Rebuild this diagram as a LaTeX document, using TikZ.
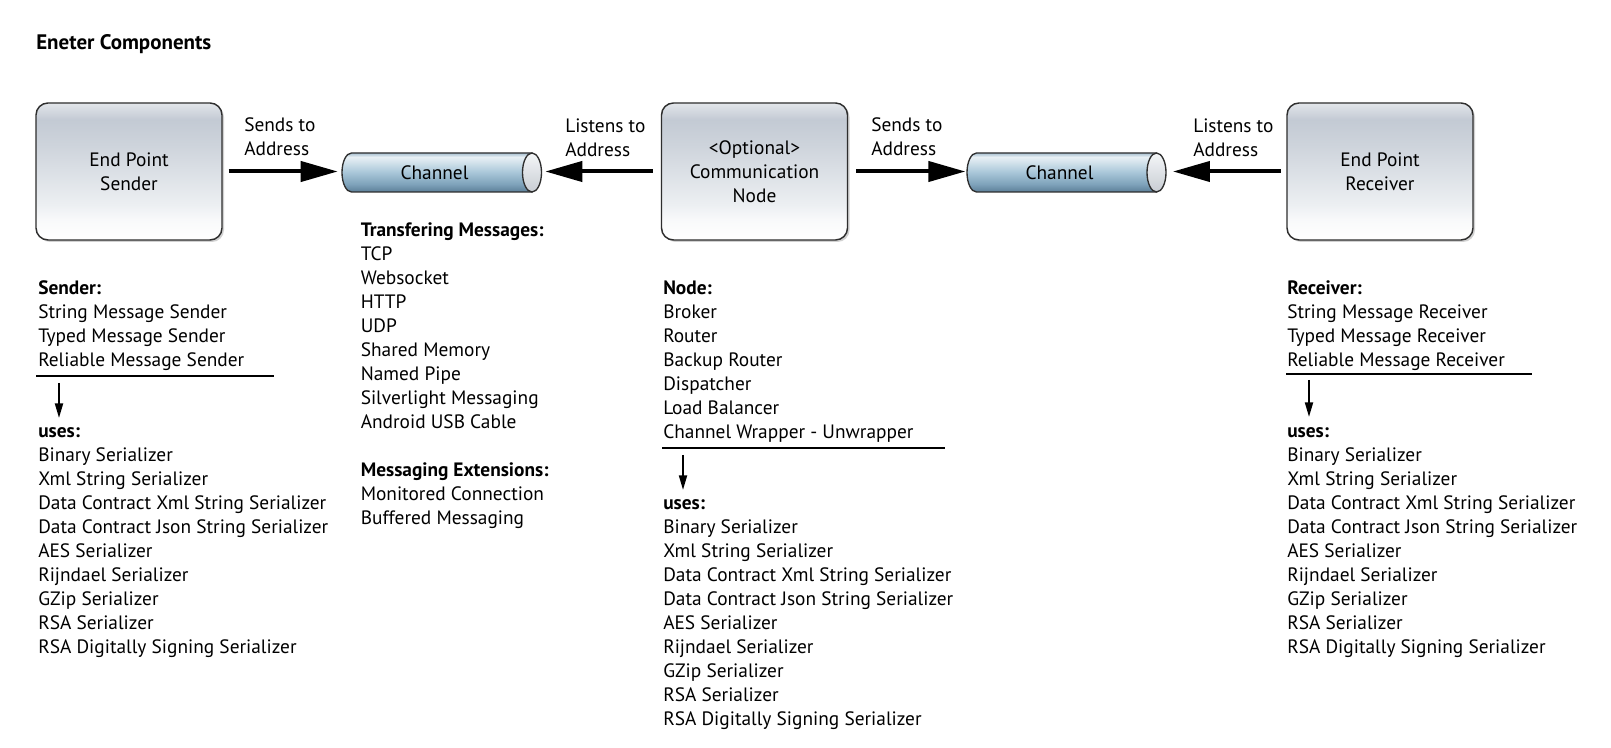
\documentclass[tikz,border=0pt]{standalone}
\usepackage{fontspec}
\setmainfont{PT Sans}
\usetikzlibrary{arrows.meta,shadows}
\definecolor{bx1}{HTML}{F9FAFB}
\definecolor{bx2}{HTML}{ECEFF2}
\definecolor{bx3}{HTML}{CDD3DB}
\definecolor{bx4}{HTML}{C3CAD4}
\definecolor{bx5}{HTML}{E3E6EA}
\definecolor{ch1c}{HTML}{5C7F98}
\definecolor{ch2c}{HTML}{7EA2BA}
\definecolor{ch3c}{HTML}{A8C6D8}
\definecolor{ch4c}{HTML}{CFE0EA}
\definecolor{ch5c}{HTML}{E8F0F5}
\definecolor{ch6c}{HTML}{A7BFCF}
\definecolor{cap1}{HTML}{C8CDD3}
\definecolor{cap2}{HTML}{F4F6F8}
\definecolor{edge}{HTML}{2E2E2E}
\pgfdeclareverticalshading{boxshade}{100bp}{color(0bp)=(white); color(25bp)=(white); color(32bp)=(bx1); color(38bp)=(bx2); color(60bp)=(bx3); color(69bp)=(bx4); color(75bp)=(bx5); color(100bp)=(bx5)}
\pgfdeclareverticalshading{chanshade}{100bp}{color(0bp)=(ch1c); color(25bp)=(ch1c); color(35bp)=(ch2c); color(50bp)=(ch3c); color(62bp)=(ch4c); color(70bp)=(ch5c); color(75bp)=(ch6c); color(100bp)=(ch6c)}
\pgfdeclareverticalshading{capshade}{100bp}{color(0bp)=(cap1); color(25bp)=(cap1); color(75bp)=(cap2); color(100bp)=(cap2)}
\newlength\tmpw
\newcommand\fl{\rule{0pt}{12pt}}
\begin{document}
\settowidth\tmpw{\fontsize{10pt}{12pt}\selectfont Data Contract Json String Serializer}%
\pgfmathsetmacro\bodysz{10*217.5/\tmpw}%
\settowidth\tmpw{\fontsize{10pt}{12pt}\selectfont\bfseries Eneter Components}%
\pgfmathsetmacro\titlesz{10*131.25/\tmpw}%
\begin{tikzpicture}[x=0.75pt,y=-0.75pt]
\tikzset{
  body/.style={font=\fontsize{\bodysz pt}{18pt}\selectfont},
  box/.style={body, draw=edge, line width=1.1pt, rounded corners=9pt,
    minimum width=139.5pt, minimum height=102.75pt, shading=boxshade,
    align=center, inner sep=0pt,
    drop shadow={shadow xshift=1.5pt, shadow yshift=-1.5pt, opacity=0.18, fill=black}},
  chan/.style={body, inner sep=0pt, minimum width=149.25pt, minimum height=29.25pt},
  lst/.style={body, anchor=north west, inner sep=0pt, align=left},
  bigarr/.style={line width=3pt, -{Triangle[length=27.75pt,width=15pt]}},
  smallarr/.style={line width=1.5pt, -{Triangle[length=11pt,width=6pt]}},
  uline/.style={line width=1.5pt},
  cylbody/.style={shade, shading=chanshade, draw=edge, line width=1pt},
  cylcap/.style={shade, shading=capshade, draw=edge, line width=1pt}
}
\useasboundingbox (0,0) rectangle (1611,748);
\fill[white] (0,0) rectangle (1611,748);

% title
\node[anchor=base west, inner sep=0pt, font=\fontsize{\titlesz pt}{14pt}\selectfont\bfseries] (title) at (36,50) {Eneter Components};

% boxes
\node[box] (snd) at (129,171.5) {End Point\\Sender};
\node[box] (nod) at (754.5,171.5) {<Optional>\\Communication\\Node};
\node[box] (rcv) at (1380,171.5) {End Point\\Receiver};

% channel 1 cylinder
\path[cylbody] (351.5,153) -- (532,153) -- (532,192) -- (351.5,192)
  arc[start angle=270, end angle=90, x radius=7.125pt, y radius=14.625pt] -- cycle;
\path[cylcap] (532,172.5) ellipse[x radius=7.125pt, y radius=14.625pt];
\node[chan] (ch1) at (441.5,172.5) {Channel\hspace*{10.5pt}};

% channel 2 cylinder
\path[cylbody] (976.5,153) -- (1156.5,153) -- (1156.5,192) -- (976.5,192)
  arc[start angle=270, end angle=90, x radius=7.125pt, y radius=14.625pt] -- cycle;
\path[cylcap] (1156.5,172.5) ellipse[x radius=7.125pt, y radius=14.625pt];
\node[chan] (ch2) at (1066.5,172.5) {Channel\hspace*{10.5pt}};

% connectors
\draw[bigarr, shorten <=4.5pt, shorten >=3pt] (snd.east) -- (snd.east -| ch1.west);
\draw[bigarr, shorten <=6pt, shorten >=3pt] (nod.west) -- (nod.west -| ch1.east);
\draw[bigarr, shorten <=6pt, shorten >=1pt] (nod.east) -- (nod.east -| ch2.west);
\draw[bigarr, shorten <=4pt, shorten >=5pt] (rcv.west) -- (rcv.west -| ch2.east);

% connector labels
\node[lst] (lab1) at (244,115) {\fl Sends to\\Address};
\node[lst] (lab2) at (565,116) {\fl Listens to\\Address};
\node[lst] (lab3) at (871,115) {\fl Sends to\\Address};
\node[lst] (lab4) at (1193,116) {\fl Listens to\\Address};

% sender lists
\node[lst] (sndlist) at (38,278) {\fl\textbf{Sender:}\\String Message Sender\\Typed Message Sender\\Reliable Message Sender};
\draw[uline] (36,376) -- (274,376);
\coordinate (sa1) at (59,383);
\coordinate (sa2) at (59,418);
\draw[smallarr] (sa1) -- (sa2);
\node[lst] (snduses) at (38,421.5) {\fl\textbf{uses:}\\Binary Serializer\\Xml String Serializer\\Data Contract Xml String Serializer\\Data Contract Json String Serializer\\AES Serializer\\Rijndael Serializer\\GZip Serializer\\RSA Serializer\\RSA Digitally Signing Serializer};

% transfer list
\node[lst] (trlist) at (360.5,220) {\fl\textbf{Transfering Messages:}\\TCP\\Websocket\\HTTP\\UDP\\Shared Memory\\Named Pipe\\Silverlight Messaging\\Android USB Cable\\[18pt]\textbf{Messaging Extensions:}\\Monitored Connection\\Buffered Messaging};

% node lists
\node[lst] (nodlist) at (663,278) {\fl\textbf{Node:}\\Broker\\Router\\Backup Router\\Dispatcher\\Load Balancer\\Channel Wrapper - Unwrapper};
\draw[uline] (662,448) -- (945,448);
\coordinate (na1) at (683,455);
\coordinate (na2) at (683,490);
\draw[smallarr] (na1) -- (na2);
\node[lst] (noduses) at (663,493) {\fl\textbf{uses:}\\Binary Serializer\\Xml String Serializer\\Data Contract Xml String Serializer\\Data Contract Json String Serializer\\AES Serializer\\Rijndael Serializer\\GZip Serializer\\RSA Serializer\\RSA Digitally Signing Serializer};

% receiver lists
\node[lst] (rcvlist) at (1287,278) {\fl\textbf{Receiver:}\\String Message Receiver\\Typed Message Receiver\\Reliable Message Receiver};
\draw[uline] (1286,374) -- (1532,374);
\coordinate (ra1) at (1309,380);
\coordinate (ra2) at (1309,417);
\draw[smallarr] (ra1) -- (ra2);
\node[lst] (rcvuses) at (1287,421.5) {\fl\textbf{uses:}\\Binary Serializer\\Xml String Serializer\\Data Contract Xml String Serializer\\Data Contract Json String Serializer\\AES Serializer\\Rijndael Serializer\\GZip Serializer\\RSA Serializer\\RSA Digitally Signing Serializer};
\end{tikzpicture}
\end{document}
